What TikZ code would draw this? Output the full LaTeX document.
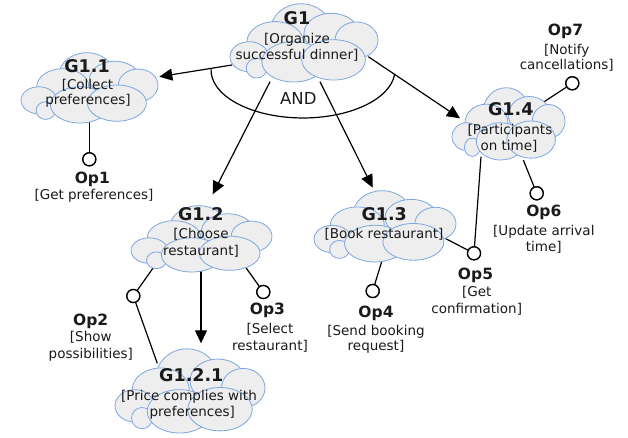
\documentclass[tikz,border=0pt]{standalone}
\usepackage{fontspec}
\setmainfont{DejaVu Sans}
\usetikzlibrary{arrows.meta}
\definecolor{cloudfill}{HTML}{EEEEEE}
\definecolor{cloudline}{HTML}{7EA6E0}
\definecolor{ink}{HTML}{1A1A1A}

% A goal cloud: overlapping puffs, given centre (#1,#2), half width #3, half height #4
\newcommand{\goalcloud}[4]{%
  \begin{scope}[shift={(#1,#2)}, xscale=#3, yscale=#4]
    \foreach \px/\py/\rx/\ry in {-0.04/-0.32/0.41/0.66, 0.37/-0.23/0.37/0.51,
        0.71/-0.06/0.29/0.46, -0.39/-0.02/0.38/0.51, -0.74/0.36/0.26/0.38,
        -0.64/0.65/0.14/0.25, -0.14/0.49/0.43/0.51, 0.40/0.44/0.43/0.51}
      \filldraw[puff] (\px,\py) ellipse [x radius=\rx, y radius=\ry];
  \end{scope}}

\begin{document}
\begin{tikzpicture}[x=1pt,y=-1pt,
  puff/.style={fill=cloudfill, draw=cloudline, line width=0.8pt},
  link/.style={draw=black, line width=1.2pt},
  refine/.style={link, -{Triangle[length=13pt,width=12pt]}},
  opball/.style={circle, draw=black, fill=white, line width=1.3pt, minimum size=13pt, inner sep=0pt},
  gtitle/.style={font=\fontsize{17.5}{20}\selectfont\bfseries, inner sep=0pt, anchor=base, text=ink},
  otitle/.style={font=\fontsize{15.5}{18}\selectfont\bfseries, inner sep=0pt, anchor=base, text=ink},
  txt/.style={font=\fontsize{13.5}{17}\selectfont, inner sep=0pt, anchor=base, text=ink},
  andtxt/.style={font=\fontsize{16.5}{19}\selectfont, inner sep=0pt, anchor=base, text=ink},
]
\useasboundingbox (0,0) rectangle (628,438);

% connector end points on the cloud outlines
\coordinate (g1-w)    at (232,65);
\coordinate (g1-sw)   at (270,81.7);
\coordinate (g1-se)   at (320,81.7);
\coordinate (g1-e)    at (368.3,56.7);
\coordinate (g11-e)   at (159.3,76.7);
\coordinate (g11-s)   at (89.3,118);
\coordinate (g12-n)   at (212.7,194.3);
\coordinate (g12-s)   at (201,270);
\coordinate (g12-sw)  at (154,266.7);
\coordinate (g12-se)  at (243.3,264);
\coordinate (g121-n)  at (201,343.3);
\coordinate (g121-nw) at (157.3,363.3);
\coordinate (g13-n)   at (372.7,187.7);
\coordinate (g13-s)   at (382.7,258.3);
\coordinate (g13-e)   at (445,238.3);
\coordinate (g14-w)   at (460,118.3);
\coordinate (g14-sw)  at (481,156.7);
\coordinate (g14-s)   at (523.3,160);
\coordinate (g14-ne)  at (541.7,103.3);
\coordinate (and-l)   at (211.06,68.3);

% operation circles
\node[opball] (op1) at (89.3,159.3) {};
\node[opball] (op2) at (133.3,296) {};
\node[opball] (op3) at (263.3,292) {};
\node[opball] (op4) at (372.7,291) {};
\node[opball] (op5) at (474,253.3) {};
\node[opball] (op6) at (536.7,193.3) {};
\node[opball] (op7) at (572.3,83.3) {};

% AND decomposition arc
\draw[link] (and-l) arc[start angle=182, end angle=5.5, x radius=92, y radius=48];
\node[andtxt] (andlbl) at (298.3,104.3) {AND};

% refinements
\draw[refine] (g1-w) -- (g11-e);
\draw[refine] (g1-sw) -- (g12-n);
\draw[refine] (g1-se) -- (g13-n);
\draw[refine] (g1-e) -- (g14-w);
\draw[refine] (g12-s) -- (g121-n);

% operationalisation links
\draw[link] (g11-s) -- (op1);
\draw[link] (g12-sw) -- (op2);
\draw[link] (op2) -- (g121-nw);
\draw[link] (g12-se) -- (op3);
\draw[link] (g13-s) -- (op4);
\draw[link] (g13-e) -- (op5);
\draw[link] (g14-sw) -- (op5);
\draw[link] (g14-s) -- (op6);
\draw[link] (g14-ne) -- (op7);

% goal clouds
\goalcloud{304}{42.5}{74}{39.5}
\goalcloud{89.5}{87.5}{68.5}{35.5}
\goalcloud{201.5}{238.5}{70.5}{33.5}
\goalcloud{190}{390.5}{75}{42.5}
\goalcloud{385}{226}{71}{36}
\goalcloud{508.5}{123.5}{56.5}{36.5}

% redraw the circles above the lines
\foreach \o in {op1,op2,op3,op4,op5,op6,op7}
  \draw[line width=1.3pt, fill=white] (\o.center) circle (6.5);

% goal texts
\node[gtitle] (g1-t)  at (297,25) {G1};
\node[txt]    (g1-a)  at (297,43.3) {[Organize};
\node[txt]    (g1-b)  at (297,60) {successful dinner]};

\node[gtitle] (g11-t) at (87,72.3) {G1.1};
\node[txt]    (g11-a) at (87.5,89.3) {[Collect};
\node[txt]    (g11-b) at (88,105) {preferences]};

\node[gtitle] (g12-t) at (200.8,221) {G1.2};
\node[txt]    (g12-a) at (201,238.3) {[Choose};
\node[txt]    (g12-b) at (201,255) {restaurant]};

\node[gtitle] (g121-t) at (191.3,381.7) {G1.2.1};
\node[txt]    (g121-a) at (189,400) {[Price complies with};
\node[txt]    (g121-b) at (192.3,416.7) {preferences]};

\node[gtitle] (g13-t) at (384.2,221) {G1.3};
\node[txt]    (g13-a) at (384,238.3) {[Book restaurant]};

\node[gtitle] (g14-t) at (510.8,116) {G1.4};
\node[txt]    (g14-a) at (510,135) {[Participants};
\node[txt]    (g14-b) at (509,151) {on time]};

% operation texts
\node[otitle] (op1-t) at (92.3,183.3) {Op1};
\node[txt]    (op1-a) at (94,200) {[Get preferences]};

\node[otitle] (op2-t) at (90.7,325) {Op2};
\node[txt]    (op2-a) at (90.8,341.7) {[Show};
\node[txt]    (op2-b) at (90.8,358.3) {possibilities]};

\node[otitle] (op3-t) at (267.5,314.3) {Op3};
\node[txt]    (op3-a) at (270,333.3) {[Select};
\node[txt]    (op3-b) at (270,350) {restaurant]};

\node[otitle] (op4-t) at (376,317.3) {Op4};
\node[txt]    (op4-a) at (376,335) {[Send booking};
\node[txt]    (op4-b) at (376,350.7) {request]};

\node[otitle] (op5-t) at (475.5,279) {Op5};
\node[txt]    (op5-a) at (476.7,296.7) {[Get};
\node[txt]    (op5-b) at (476.7,313.3) {confirmation]};

\node[otitle] (op6-t) at (543.8,216.7) {Op6};
\node[txt]    (op6-a) at (543.8,235) {[Update arrival};
\node[txt]    (op6-b) at (543.8,251.7) {time]};

\node[otitle] (op7-t) at (565.5,36) {Op7};
\node[txt]    (op7-a) at (566.7,54.3) {[Notify};
\node[txt]    (op7-b) at (566.7,70) {cancellations]};
\end{tikzpicture}
\end{document}
